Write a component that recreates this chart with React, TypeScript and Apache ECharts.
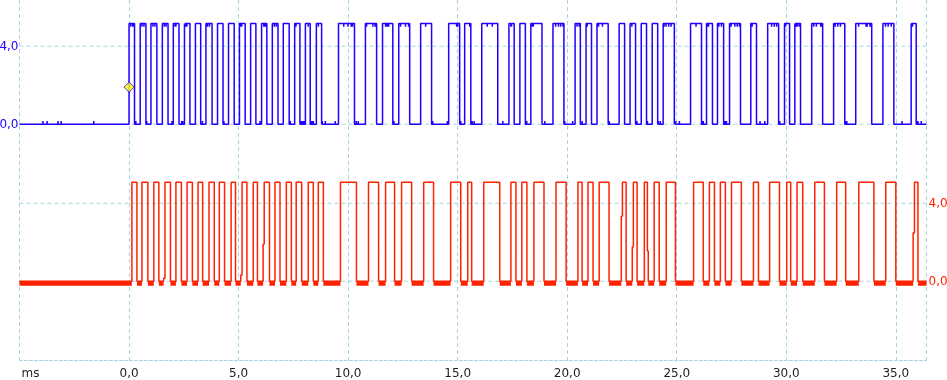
import React, { useEffect, useRef } from "react";
import * as echarts from "echarts";

// ---- axis ranges / ticks (ms and volts) ----
const X_MIN = -5;
const X_MAX = 36.4;
const X_INTERVAL = 5;
const yLabelValues = [0, 4];
const blueRange = [-12.09, 6.37];
const redRange = [-4.04, 14.43];

// ---- channel levels (V) ----
const blueHigh = 5.16;
const redHigh = 5.08;
const glitchSize = 0.16;
const redNoiseLevel = -0.115;
const triggerPoint = [0, 1.9];

// ---- blue channel: edge times in ms (rise, fall, rise, ...) ----
const blueEdges = [
  0.0, 0.25, 0.51, 0.77, 1.0, 1.27, 1.52, 1.78, 2.02, 2.28, 2.53, 2.78, 3.03, 3.27, 3.51, 3.79,
  4.04, 4.29, 4.54, 4.8, 5.04, 5.3, 5.55, 5.79, 6.05, 6.29, 6.54, 6.8, 7.04, 7.31, 7.56, 7.8,
  8.05, 8.27, 8.55, 8.79, 9.56, 10.29, 10.79, 11.3, 11.57, 12.04, 12.31, 12.81, 13.31, 13.81,
  14.59, 15.09, 15.32, 15.6, 16.1, 16.83, 17.34, 17.58, 17.84, 18.09, 18.34, 18.85, 19.35, 19.85,
  20.36, 20.6, 20.86, 21.11, 21.36, 21.87, 22.37, 22.62, 22.87, 23.12, 23.38, 23.62, 23.88, 24.13,
  24.38, 24.89, 25.63, 26.13, 26.36, 26.63, 26.86, 27.14, 27.41, 27.91, 28.38, 28.64, 29.15, 29.65,
  29.92, 30.15, 30.39, 30.65, 31.16, 31.66, 32.16, 32.67, 33.17, 33.9, 34.41, 34.91, 35.7, 35.93,
];

// ---- blue channel: short glitches (ms) ----
const blueGlitches = [
  -3.93, -3.74, -3.24, -3.1, -1.61,
  0.08, 0.17, 0.2, 0.31, 0.59, 0.68, 0.81, 1.09, 1.18, 1.61, 1.69, 1.96, 2.1, 2.14, 2.4, 2.45,
  2.56, 2.6, 2.64, 3.35, 3.58, 3.67, 4.33, 5.1, 5.14, 5.98, 6.15, 6.19, 6.23, 6.63, 6.72, 7.36,
  7.62, 7.85, 7.92, 7.98, 8.18, 8.31, 8.38, 8.41, 8.64, 8.82, 8.96, 9.41, 9.8, 9.99, 10.14, 10.2,
  10.37, 10.46, 10.84, 11.13, 11.23, 11.71, 11.78, 11.85, 12.09, 12.39, 12.62, 12.76, 13.54, 13.86,
  14.53, 14.95, 15.0, 15.14, 15.55, 15.66, 15.75, 16.35, 16.58, 17.06, 17.43, 17.46, 18.15, 18.4,
  18.45, 18.98, 19.47, 19.6, 19.7, 19.81, 19.89, 20.25, 20.45, 20.55, 20.68, 20.91, 21.43, 21.61,
  21.92, 22.95, 23.18, 23.66, 24.16, 24.25, 24.42, 24.51, 24.63, 24.74, 24.92, 24.95, 25.12, 25.88,
  26.17, 26.21, 26.4, 26.45, 26.92, 27.04, 27.18, 27.22, 27.27, 27.48, 27.65, 27.76, 27.86, 28.44,
  28.8, 29.02, 29.33, 29.45, 29.56, 29.7, 29.97, 30.42, 30.47, 30.52, 30.61, 31.25, 31.37, 31.57,
  31.61, 32.23, 32.35, 32.47, 32.72, 32.76, 33.3, 33.64, 33.69, 33.82, 33.86, 34.53, 34.65, 34.79,
  35.28, 35.72, 35.76, 35.97, 36.01, 36.16,
];

// ---- red channel: edge times in ms (rise, fall, rise, ...) ----
const redEdges = [
  0.13, 0.36, 0.59, 0.86, 1.13, 1.36, 1.64, 1.89, 2.14, 2.39, 2.65, 2.89, 3.15, 3.36, 3.65, 3.89,
  4.12, 4.36, 4.66, 4.86, 5.16, 5.38, 5.67, 5.86, 6.17, 6.41, 6.66, 6.89, 7.18, 7.41, 7.63, 7.88,
  8.18, 8.41, 8.64, 8.87, 9.65, 10.38, 10.93, 11.39, 11.71, 12.12, 12.44, 12.9, 13.45, 13.9,
  14.68, 15.14, 15.46, 15.64, 16.19, 16.92, 17.43, 17.66, 17.93, 18.16, 18.48, 18.94, 19.49, 19.95,
  20.49, 20.68, 20.95, 21.18, 21.46, 21.91, 22.52, 22.69, 23.02, 23.19, 23.52, 23.7, 23.97, 24.2,
  24.52, 24.94, 25.77, 26.21, 26.49, 26.72, 26.99, 27.22, 27.5, 27.95, 28.5, 28.73, 29.24, 29.69,
  30.02, 30.2, 30.49, 30.75, 31.3, 31.74, 32.3, 32.71, 33.31, 34.0, 34.54, 35.0, 35.85, 36.01,
];

// ---- red channel: intermediate samples caught mid-edge [ms, V] ----
const redSteps = [
  [1.58, 0.15],
  [5.1, 0.32],
  [6.12, 1.9],
  [22.47, 3.33],
  [22.97, 1.76],
  [23.66, 1.55],
  [35.79, 2.47],
];

const BLUE = "#2200ff";
const RED = "#ff2200";
const GRID = "#a3d6dd";
const FONT = "DejaVu Sans";

function levelAt(edges: number[], high: number, t: number) {
  let n = 0;
  for (const e of edges) {
    if (e <= t) n++;
    else break;
  }
  return n % 2 === 1 ? high : 0;
}

function buildTrace(edges: number[], high: number, glitches: number[], steps: number[][]) {
  const ev: { t: number; v: number }[] = [];
  edges.forEach((t, i) => ev.push({ t, v: i % 2 === 0 ? high : 0 }));
  steps.forEach(([t, v]) => ev.push({ t, v }));
  glitches.forEach((g) => {
    const lvl = levelAt(edges, high, g);
    const dev = lvl > 0 ? -glitchSize : glitchSize;
    ev.push({ t: g, v: lvl + dev });
    ev.push({ t: g + 0.004, v: lvl });
  });
  ev.sort((a, b) => a.t - b.t);
  const pts: (number | string)[][] = [[X_MIN, 0]];
  let prev = 0;
  for (const e of ev) {
    pts.push([e.t, prev]);
    pts.push([e.t, e.v]);
    prev = e.v;
  }
  pts.push([X_MAX, prev]);
  return pts;
}

function buildNoiseBand(trace: (number | string)[][]) {
  const out: (number | string)[][] = [];
  for (let i = 0; i < trace.length - 1; i++) {
    const a = trace[i];
    const b = trace[i + 1];
    if (a[1] === 0 && b[1] === 0 && (b[0] as number) > (a[0] as number)) {
      out.push([a[0], redNoiseLevel]);
      out.push([b[0], redNoiseLevel]);
      out.push([b[0], "-"]);
    }
  }
  return out;
}

const fmt = (v: number) => v.toFixed(1).replace(".", ",");

function gridLineSeries(yIndex: number, v: number) {
  return {
    type: "line",
    yAxisIndex: yIndex,
    data: [
      [X_MIN, v],
      [X_MAX, v],
    ],
    symbol: "none",
    silent: true,
    z: 1,
    lineStyle: { color: GRID, width: 1, type: [4, 3] },
  };
}

export default function App() {
  const ref = useRef<HTMLDivElement>(null);

  useEffect(() => {
    if (!ref.current) return;
    const chart = echarts.init(ref.current, undefined, { renderer: "svg" });
    const blueTrace = buildTrace(blueEdges, blueHigh, blueGlitches, []);
    const redTrace = buildTrace(redEdges, redHigh, [], redSteps);
    const redBand = buildNoiseBand(redTrace);

    const yAxisCommon = {
      type: "value",
      axisLine: { show: false },
      axisTick: { show: false },
      splitLine: { show: false },
    };

    chart.setOption({
      animation: false,
      grid: { left: 19.5, right: 20.5, top: 0, bottom: 20, outerBoundsMode: "none", containLabel: false },
      xAxis: {
        type: "value",
        min: X_MIN,
        max: X_MAX,
        interval: X_INTERVAL,
        axisLine: { show: true, onZero: false, lineStyle: { color: GRID, width: 1, type: [3, 2] } },
        axisTick: { show: false },
        splitLine: { show: true, lineStyle: { color: GRID, width: 1, type: [4, 3] } },
        axisLabel: {
          margin: 7,
          fontSize: 12,
          lineHeight: 12,
          fontFamily: FONT,
          color: "#1e1e1e",
          showMaxLabel: false,
          formatter: (v: number) => (v === X_MIN ? "{u|ms}" : fmt(v)),
          rich: {
            u: { padding: [0, 0, 0, 22], fontSize: 12, lineHeight: 12, fontFamily: FONT, color: "#1e1e1e" },
          },
        },
      },
      yAxis: [
        {
          ...yAxisCommon,
          position: "left",
          min: blueRange[0],
          max: blueRange[1],
          axisLabel: {
            customValues: yLabelValues,
            formatter: (v: number) => fmt(v),
            color: BLUE,
            fontSize: 12,
            fontFamily: FONT,
            margin: 1,
          },
        },
        {
          ...yAxisCommon,
          position: "right",
          min: redRange[0],
          max: redRange[1],
          axisLabel: {
            customValues: yLabelValues,
            formatter: (v: number) => fmt(v),
            color: RED,
            fontSize: 12,
            fontFamily: FONT,
            margin: 2,
          },
        },
      ],
      series: [
        gridLineSeries(0, yLabelValues[0]),
        gridLineSeries(0, yLabelValues[1]),
        gridLineSeries(1, yLabelValues[0]),
        gridLineSeries(1, yLabelValues[1]),
        {
          type: "line",
          yAxisIndex: 1,
          data: redBand,
          symbol: "none",
          z: 2,
          lineStyle: { color: RED, width: 4.5, cap: "butt" },
        },
        {
          type: "line",
          yAxisIndex: 1,
          data: redTrace,
          symbol: "none",
          z: 3,
          lineStyle: { color: RED, width: 1.5 },
        },
        {
          type: "line",
          yAxisIndex: 0,
          data: blueTrace,
          symbol: "none",
          z: 3,
          lineStyle: { color: BLUE, width: 1.5 },
        },
        {
          type: "scatter",
          yAxisIndex: 0,
          data: [triggerPoint],
          symbol: "diamond",
          symbolSize: [10, 10],
          z: 4,
          itemStyle: { color: "#ffff00", borderColor: BLUE, borderWidth: 1 },
        },
      ],
    });
    return () => chart.dispose();
  }, []);

  return <div ref={ref} style={{ position: "fixed", left: 0, top: 0, width: 947, height: 380 }} />;
}
